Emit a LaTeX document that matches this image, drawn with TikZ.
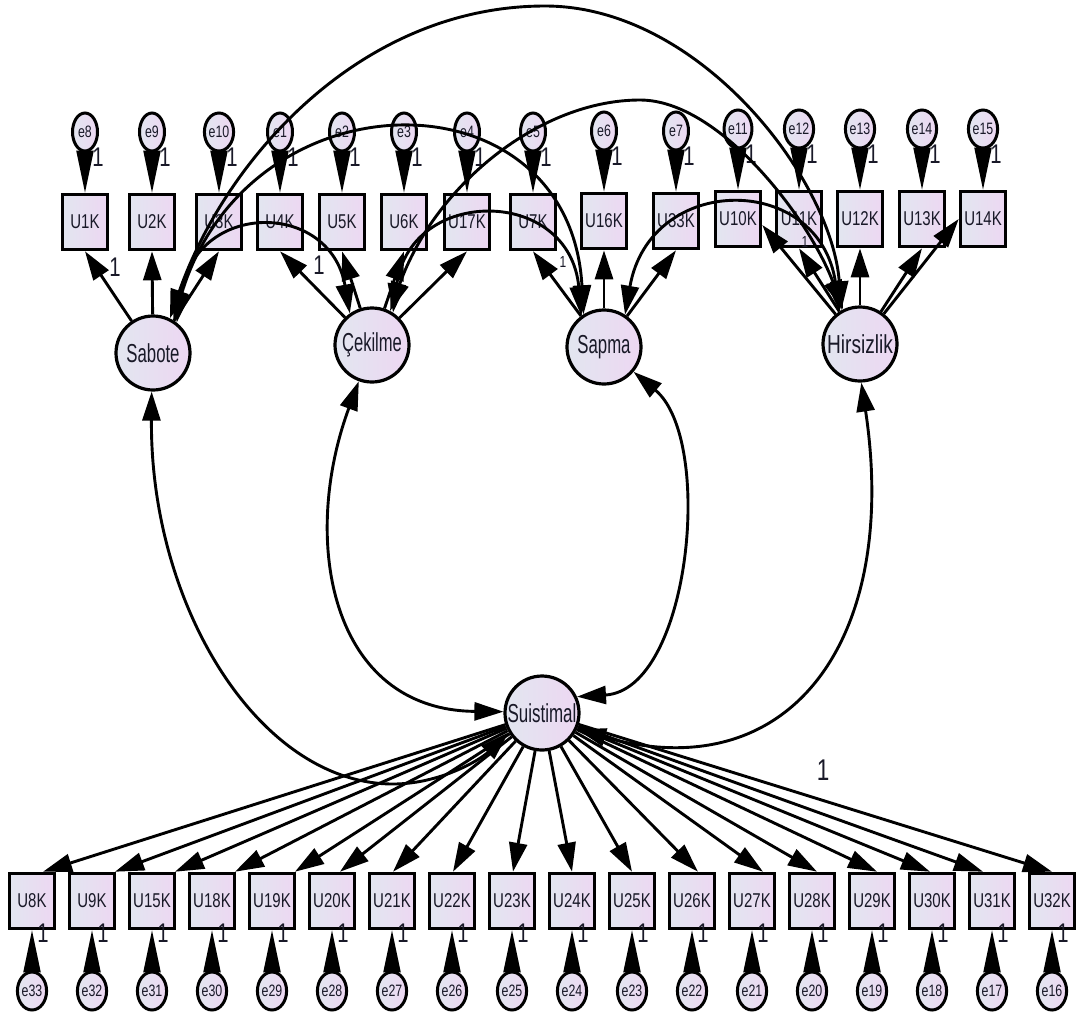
\documentclass[tikz,border=0pt]{standalone}
\usepackage{fontspec}
\setmainfont[FakeStretch=0.75]{Liberation Sans}
\usetikzlibrary{arrows.meta,shapes.geometric,calc}
\definecolor{fillL}{RGB}{226,230,240}
\definecolor{fillR}{RGB}{237,215,242}
\definecolor{ink}{RGB}{25,25,40}
\tikzset{
  obs/.style={draw=black, line width=3.6pt, rectangle, minimum width=45pt, minimum height=55pt, inner sep=0pt, left color=fillL, right color=fillR, text=ink, font=\fontsize{20}{20}\selectfont},
  lat/.style={draw=black, line width=3.2pt, circle, minimum size=74pt, inner sep=0pt, left color=fillL, right color=fillR, text=ink, font=\fontsize{26}{26}\selectfont},
  err/.style={draw=black, line width=3pt, ellipse, minimum width=25pt, minimum height=38pt, inner sep=0pt, left color=fillL, right color=fillR, text=ink, font=\fontsize{16.5}{17}\selectfont},
  load/.style={line width=2.9pt, -{Triangle[length=29pt,width=18pt]}},
  cov/.style={line width=2.9pt, {Triangle[length=29pt,width=18pt]}-{Triangle[length=29pt,width=18pt]}},
  errarr/.style={line width=2pt, -{Triangle[length=42pt,width=17pt]}, shorten <=-4pt},
  onelab/.style={inner sep=0pt, text=ink, font=\fontsize{27}{27}\selectfont},
}
\begin{document}
\begin{tikzpicture}[x=1pt,y=-1pt]
\fill[white] (0,0) rectangle (1081,1021);
\useasboundingbox (0,0) rectangle (1081,1021);

% top indicators and errors
\foreach \n/\e/\x/\y in {U1K/e8/85/222, U2K/e9/152/222, U3K/e10/219/222, U4K/e1/280/222, U5K/e2/342/222, U6K/e3/404/222, U17K/e4/467/222, U7K/e5/533/222, U16K/e6/604/221, U33K/e7/676/221, U10K/e11/738/219, U11K/e12/799/219, U12K/e13/860/219, U13K/e14/922/219, U14K/e15/983/219}{
  \node[obs] (\n) at (\x,\y) {\n};
  \node[err] (\e) at (\x,\y-90) {\e};
  \draw[errarr] (\e) -- (\n);
  \node[onelab] (l\e) at (\x+13,\y-65) {1};
}

% bottom indicators and errors
\foreach \n/\e/\x in {U8K/e33/32, U9K/e32/92, U15K/e31/152, U18K/e30/212, U19K/e29/272, U20K/e28/332, U21K/e27/392, U22K/e26/452, U23K/e25/512, U24K/e24/572, U25K/e23/632, U26K/e22/692, U27K/e21/752, U28K/e20/812, U29K/e19/872, U30K/e18/932, U31K/e17/992, U32K/e16/1052}{
  \node[obs] (\n) at (\x,901) {\n};
  \node[err] (\e) at (\x,991) {\e};
  \draw[errarr] (\e) -- (\n);
  \node[onelab] (l\e) at (\x+11,933) {1};
}

% latent variables
\node[lat] (Sab) at (153,353) {\scalebox{0.86}[1]{Sabote}};
\node[lat] (Cek) at (372,345) {\scalebox{0.85}[1]{Çekilme}};
\node[lat] (Sap) at (604,347) {\scalebox{0.86}[1]{Sapma}};
\node[lat] (Hir) at (860,344) {\scalebox{0.98}[1]{Hirsizlik}};
\node[lat] (Sui) at (542,713) {\scalebox{0.87}[1]{Suistimal}};

% loadings top
\draw[load] (Sab) -- (U1K.south);
\draw[load] (Sab) -- (U2K.south);
\draw[load] (Sab) -- (U3K.south);
\draw[load] (Cek) -- (U4K.south);
\draw[load] (Cek) -- (U5K.south);
\draw[load] (Cek) -- (U6K.south);
\draw[load] (Cek) -- (U17K.south);
\draw[load] (Sap) -- (U7K.south);
\draw[load] (Sap) -- (U16K.south);
\draw[load] (Sap) -- (U33K.south);
\draw[load] (Hir) -- ($(U10K.east)+(0,6)$);
\draw[load] (Hir) -- (U11K.south);
\draw[load] (Hir) -- (U12K.south);
\draw[load] (Hir) -- (U13K.south);
\draw[load] (Hir) -- (U14K.west);

% loadings bottom
\foreach \n/\dx in {U8K/11, U9K/23, U15K/23, U18K/23, U19K/23, U20K/8, U21K/1, U22K/1, U23K/1, U24K/0, U25K/0, U26K/6, U27K/11, U28K/5, U29K/5, U30K/-2, U31K/-9, U32K/0}{
  \draw[load] (Sui) -- ($(\n.north)+(\dx,0)$);
}

% covariances among top latents
\draw[cov] (Sab.64) .. controls (225,160) and (360,6) .. (545,6) .. controls (700,6) and (832,180) .. (Hir.119);
\draw[cov] (Sab.58) .. controls (250,70) and (570,70) .. (Sap.122);
\draw[cov] (Cek.62) .. controls (435,185) and (540,100) .. (640,100) .. controls (720,100) and (810,220) .. (Hir.116);
\draw[cov] (Sab.52) .. controls (195,200) and (330,200) .. (Cek.125);
\draw[cov] (Cek.57) .. controls (410,186) and (570,186) .. (Sap.126);
\draw[cov] (Sap.57) .. controls (650,172) and (820,172) .. (Hir.122);

% covariances with Suistimal
\draw[cov] (Sab.268) .. controls (150,607) and (260,784) .. (393,784) .. controls (440,784) and (480,760) .. (Sui.210);
\draw[cov] (Cek.250) .. controls (300,540) and (330,710) .. (Sui.178);
\draw[cov] (Sap.-40) .. controls (715,440) and (690,690) .. (Sui.25);
\draw[cov] (Hir.272) .. controls (900,640) and (790,790) .. (Sui.-25);

% fixed loading labels
\node[onelab] (f1) at (115,267) {1};
\node[onelab] (f2) at (319,265) {1};
\node[onelab, font=\fontsize{16}{16}\selectfont] (f3) at (563,262) {1};
\node[onelab, font=\fontsize{16}{16}\selectfont] (f4) at (805,242) {1};
\node[onelab, font=\fontsize{30}{30}\selectfont] (f5) at (823,770) {1};
\end{tikzpicture}
\end{document}
